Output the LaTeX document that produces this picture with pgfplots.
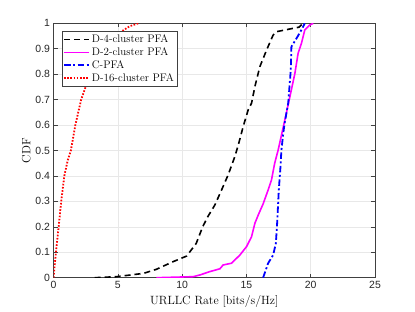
\documentclass[border=0pt]{standalone}
\usepackage{fontspec}
\usepackage{pgfplots}
\pgfplotsset{compat=1.18}
\usetikzlibrary{calc}
\newfontfamily\ticksf{Liberation Sans}
\definecolor{axgray}{gray}{0.25}
\definecolor{mmag}{rgb}{1,0,1}
\definecolor{mblue}{rgb}{0,0,1}
\definecolor{mred}{rgb}{1,0,0}
\begin{document}
\begin{tikzpicture}
\begin{axis}[
  scale only axis, width=321.5bp, height=254.4bp,
  xmin=0, xmax=25, ymin=0, ymax=1,
  xtick={0,5,10,15,20,25},
  ytick={0,0.1,0.2,0.3,0.4,0.5,0.6,0.7,0.8,0.9,1},
  yticklabels={0,0.1,0.2,0.3,0.4,0.5,0.6,0.7,0.8,0.9,1},
  tick label style={font=\ticksf\fontsize{10.5}{12}\selectfont, text=black!85},
  /pgf/number format/assume math mode=true,
  grid=major, major grid style={gray!18, line width=0.5pt},
  axis line style={axgray, line width=0.6pt}, tick style={axgray, line width=0.5pt},
  tick align=inside, major tick length=4bp,
  xlabel={URLLC Rate [bits/s/Hz]}, ylabel={CDF},
  label style={font=\fontsize{12}{14}\selectfont},
  ylabel style={yshift=-2bp},
  legend cell align=left,
  legend style={at={(0,1)}, anchor=north west, xshift=8bp, yshift=-8bp,
    draw=axgray, fill=white, font=\fontsize{11}{13}\selectfont,
    inner sep=1.5bp, row sep=-0.5bp},
  legend image code/.code={\draw[#1] (0cm,0cm) -- (0.88cm,0cm);},
]
\addplot[black, line width=1.6bp, dash pattern=on 6bp off 4bp] coordinates {
(3.2,0) (4.9,0.004) (7.0,0.017) (8.0,0.033) (9.3,0.063) (10.35,0.085) (11.1,0.135) (11.6,0.2) (12.0,0.24) (12.55,0.286) (13.07,0.345) (13.58,0.404) (14.1,0.476) (14.36,0.52) (14.75,0.594) (15.14,0.66) (15.4,0.686) (15.66,0.751) (16.05,0.83) (16.57,0.895) (17.08,0.954) (17.34,0.967) (19.1,0.985) (19.4,1)
};
\addlegendentry{D-4-cluster PFA}
\addplot[mmag, line width=1.6bp] coordinates {
(8.0,0) (10.86,0.004) (11.4,0.011) (12.16,0.024) (12.94,0.035) (13.19,0.05) (13.85,0.057) (14.49,0.089) (15.01,0.122) (15.4,0.161) (15.66,0.214) (15.95,0.25) (16.3,0.29) (16.69,0.345) (16.95,0.384) (17.2,0.45) (17.47,0.502) (17.99,0.62) (18.38,0.711) (18.77,0.803) (19.02,0.882) (19.28,0.921) (19.54,0.974) (19.93,0.993) (20.2,1)
};
\addlegendentry{D-2-cluster PFA}
\addplot[mblue, line width=1.8bp, dash pattern=on 6.5bp off 2.5bp on 2bp off 2.5bp] coordinates {
(16.3,0) (16.69,0.057) (17.08,0.089) (17.29,0.135) (17.39,0.214) (17.52,0.345) (17.65,0.436) (17.72,0.5) (17.85,0.56) (17.95,0.6) (18.25,0.686) (18.45,0.816) (18.5,0.908) (18.9,0.941) (19.28,0.974) (19.54,1)
};
\addlegendentry{C-PFA}
\addplot[mred, line width=1.8bp, dash pattern=on 1.6bp off 1.6bp] coordinates {
(0,0) (0.19,0.1) (0.4,0.2) (0.6,0.3) (0.84,0.4) (1.1,0.46) (1.35,0.5) (1.7,0.6) (2.15,0.7) (2.5,0.75) (3.2,0.85) (4.0,0.9) (4.8,0.945) (5.3,0.968) (5.9,0.988) (6.6,1)
};
\addlegendentry{D-16-cluster PFA}
\end{axis}
\pgfresetboundingbox
\path ($(current axis.south west)+(-53.5bp,-34.3bp)$) rectangle ($(current axis.north east)+(40bp,23.3bp)$);
\end{tikzpicture}
\end{document}
